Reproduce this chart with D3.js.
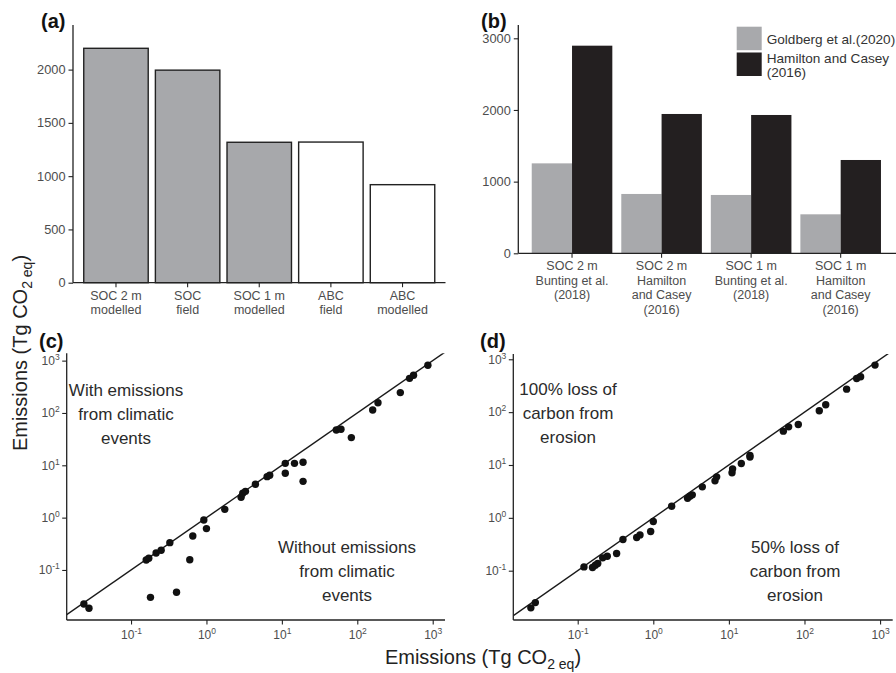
<!DOCTYPE html>
<html>
<head>
<meta charset="utf-8">
<script src="https://cdn.jsdelivr.net/npm/d3@7"></script>
<style>
  body { margin: 0; background: #fff; }
  svg { font-family: "Liberation Sans", Arial, Helvetica, sans-serif; }
  .tick text { fill: #4d4d4d; }
</style>
</head>
<body>
<script>
// panel (a)
const catsA = [["SOC 2 m", "modelled"], ["SOC", "field"], ["SOC 1 m", "modelled"], ["ABC", "field"], ["ABC", "modelled"]];
const valsA = [2200, 1995, 1318, 1320, 920];
const ticksA = [0, 500, 1000, 1500, 2000];

// panel (b)
const catsB = [["SOC 2 m", "Bunting et al.", "(2018)"], ["SOC 2 m", "Hamilton", "and Casey", "(2016)"], ["SOC 1 m", "Bunting et al.", "(2018)"], ["SOC 1 m", "Hamilton", "and Casey", "(2016)"]];
const seriesB = ["Goldberg et al.(2020)", "Hamilton and Casey|(2016)"];
const goldberg = [1255, 828, 814, 544];
const hamilton = [2897, 1944, 1930, 1302];
const ticksB = [0, 1000, 2000, 3000];

// panel (c): x = without climatic events, y = with
const cX = [0.0237, 0.0277, 0.159, 0.172, 0.215, 0.251, 0.327, 0.181, 0.401, 0.601, 0.659, 0.923, 1.0, 1.75, 2.88, 3.03, 3.29, 4.46, 6.37, 6.90, 11.1, 11.1, 14.7, 19.1, 19.1, 52.7, 60.8, 83.4, 160, 188, 372, 493, 557, 863];
const cY = [0.0224, 0.0185, 0.155, 0.167, 0.211, 0.238, 0.333, 0.030, 0.0374, 0.157, 0.447, 0.902, 0.617, 1.44, 2.45, 2.92, 3.18, 4.34, 6.07, 6.44, 10.9, 7.03, 10.9, 11.4, 4.94, 47.3, 48.8, 33.8, 114, 157, 245, 459, 525, 815];

// panel (d): x = 100% loss, y = 50% loss
const dX = [0.0240, 0.0275, 0.121, 0.157, 0.171, 0.184, 0.214, 0.246, 0.327, 0.397, 0.603, 0.667, 0.923, 1.0, 1.75, 2.84, 3.05, 3.28, 4.45, 6.55, 6.89, 11.0, 11.2, 14.6, 19.0, 19.0, 52.5, 61.7, 82.8, 157, 191, 361, 490, 553, 857];
const dY = [0.0198, 0.0249, 0.118, 0.115, 0.127, 0.137, 0.175, 0.188, 0.211, 0.389, 0.425, 0.476, 0.551, 0.853, 1.66, 2.35, 2.57, 2.72, 3.86, 5.01, 5.97, 7.11, 8.45, 10.7, 14.1, 15.1, 43.7, 52.7, 58.5, 106, 138, 272, 434, 467, 776];

const logTicks = [0.1, 1, 10, 100, 1000];

const axisColor = "#222";

const svg = d3.select("body").
append("svg").
attr("width", 896).
attr("height", 673);

const styleAxis = (g) => {
  g.select(".domain").attr("stroke", axisColor).attr("stroke-width", 1.3);
  g.selectAll(".tick line").attr("stroke", axisColor).attr("stroke-width", 1.1);
  g.selectAll(".tick text").attr("font-size", 12.8).attr("fill", "#4d4d4d");
};

const multiLine = (g, lines, lh) => {
  g.selectAll("text").remove();
  const t = g.append("text").attr("text-anchor", "middle").attr("font-size", 12.5).attr("fill", "#4d4d4d");
  lines.forEach((l, i) => t.append("tspan").attr("x", 0).attr("y", 17 + i * lh).text(l));
};

const panelLabel = (x, y, s) => {
  svg.append("text").attr("x", x).attr("y", y).attr("font-size", 20).attr("font-weight", "bold").attr("fill", "#111").text(s);
};

// ---------- (a) ----------
const drawA = () => {
  const x = d3.scaleBand().domain(d3.range(catsA.length)).range([73, 445.5]).paddingInner(0.1).paddingOuter(0.15);
  const y = d3.scaleLinear().domain([0, 2200]).range([282.7, 48.3]);
  const g = svg.append("g");
  g.selectAll("rect").
  data(valsA).
  enter().
  append("rect").
  attr("x", (d, i) => x(i)).
  attr("y", d => y(d)).
  attr("width", x.bandwidth()).
  attr("height", d => y(0) - y(d)).
  attr("fill", (d, i) => catsA[i][0].startsWith("SOC") ? "#a7a8ab" : "#fff").
  attr("stroke", "#222").
  attr("stroke-width", 1.4);

  const ya = g.append("g").attr("transform", "translate(73,0)").
  call(d3.axisLeft(y).tickValues(ticksA).tickFormat(d3.format("d")).tickSize(4.5).tickPadding(3).tickSizeOuter(0));
  ya.select(".domain").attr("d", `M0,25V${y(0)}`);
  styleAxis(ya);

  const xa = g.append("g").attr("transform", `translate(0,${y(0)})`).
  call(d3.axisBottom(x).tickSize(4.5).tickSizeOuter(0));
  xa.select(".domain").attr("d", "M73,0H445.5");
  xa.selectAll(".tick").each(function (d) { multiLine(d3.select(this), catsA[d], 14.5); });
  styleAxis(xa);
  xa.selectAll(".tick text").attr("font-size", 12.5);
  panelLabel(41, 28, "(a)");
};

// ---------- (b) ----------
const drawB = () => {
  const x0 = d3.scaleBand().domain(d3.range(catsB.length)).range([518.3, 894.4]).paddingInner(0.1).paddingOuter(0.15);
  const x1 = d3.scaleBand().domain([0, 1]).range([0, x0.bandwidth()]);
  const y = d3.scaleLinear().domain([0, 3000]).range([253.3, 38.3]);
  const colors = ["#a8a9ac", "#231f20"];
  const g = svg.append("g");
  [goldberg, hamilton].forEach((vals, s) => {
    g.append("g").selectAll("rect").
    data(vals).
    enter().
    append("rect").
    attr("x", (d, i) => x0(i) + x1(s)).
    attr("y", d => y(d)).
    attr("width", x1.bandwidth()).
    attr("height", d => y(0) - y(d)).
    attr("fill", colors[s]);
  });

  const ya = g.append("g").attr("transform", "translate(518.3,0)").
  call(d3.axisLeft(y).tickValues(ticksB).tickFormat(d3.format("d")).tickSize(4.5).tickPadding(3).tickSizeOuter(0));
  ya.select(".domain").attr("d", `M0,25V${y(0)}`);
  styleAxis(ya);

  const xa = g.append("g").attr("transform", `translate(0,${y(0)})`).
  call(d3.axisBottom(x0).tickSize(4.5).tickSizeOuter(0));
  xa.select(".domain").attr("d", "M518.3,0H896");
  xa.selectAll(".tick").each(function (d) { multiLine(d3.select(this), catsB[d], 14.5); });
  styleAxis(xa);
  xa.selectAll(".tick text").attr("font-size", 12.5);

  // legend
  const lg = svg.append("g").attr("transform", "translate(736.7,26.7)");
  seriesB.forEach((s, i) => {
    lg.append("rect").attr("x", 0).attr("y", i * 25.8).attr("width", 25).attr("height", 23.5).attr("fill", colors[i]);
    const t = lg.append("text").attr("font-size", 13.6).attr("fill", "#333");
    s.split("|").forEach((l, j) => t.append("tspan").attr("x", 30).attr("y", 17 + i * 19.5 + j * 14).text(l));
  });
  panelLabel(481, 28, "(b)");
};

// ---------- (c), (d) ----------
const supLabel = (sel) => {
  sel.each(function (d) {
    const t = d3.select(this);
    const e = Math.round(Math.log10(d));
    t.text(null);
    t.append("tspan").text("10");
    t.append("tspan").attr("dy", -5).attr("font-size", 8.5).text(e < 0 ? "-" + Math.abs(e) : e);
  });
};

const drawScatter = (px, xr, yr, xd, yd, xs, ys, notes, label) => {
  const x = d3.scaleLog().domain(xd).range(xr);
  const y = d3.scaleLog().domain(yd).range(yr);
  const g = svg.append("g");
  const clipId = "clip" + label.replace(/\W/g, "");
  g.append("clipPath").attr("id", clipId).append("rect").
  attr("x", xr[0]).attr("y", yr[1]).attr("width", xr[1] - xr[0]).attr("height", yr[0] - yr[1]);

  g.append("line").
  attr("clip-path", `url(#${clipId})`).
  attr("x1", x(0.005)).attr("y1", y(0.005)).
  attr("x2", x(3000)).attr("y2", y(3000)).
  attr("stroke", "#1a1a1a").attr("stroke-width", 1.4);

  g.selectAll("circle").
  data(xs).
  enter().
  append("circle").
  attr("cx", d => x(d)).
  attr("cy", (d, i) => y(ys[i])).
  attr("r", 3.7).
  attr("fill", "#111");

  const ya = g.append("g").attr("transform", `translate(${xr[0]},0)`).
  call(d3.axisLeft(y).tickValues(logTicks).tickSize(4.5).tickPadding(2.5).tickSizeOuter(0));
  ya.select(".domain").attr("d", `M0,${yr[1]}V${yr[0]}`);
  styleAxis(ya);
  ya.selectAll(".tick text").attr("font-size", 12).call(supLabel);

  const xa = g.append("g").attr("transform", `translate(0,${yr[0]})`).
  call(d3.axisBottom(x).tickValues(logTicks).tickSize(4.5).tickPadding(6).tickSizeOuter(0));
  xa.select(".domain").attr("d", `M${xr[0]},0H${xr[1]}`);
  styleAxis(xa);
  xa.selectAll(".tick text").attr("font-size", 12).call(supLabel);

  notes.forEach(n => {
    const t = g.append("text").attr("text-anchor", "middle").attr("font-size", 17).attr("fill", "#2b2b2b");
    n.lines.forEach((l, i) => t.append("tspan").attr("x", n.x).attr("y", n.y + i * 24).text(l));
  });
  panelLabel(px, 348, label);
};

drawA();
drawB();
drawScatter(39, [66.7, 445], [620, 353.3], [Math.pow(10, -1.853), Math.pow(10, 3.163)], [Math.pow(10, -1.956), Math.pow(10, 3.14)], cX, cY,
  [{ x: 126, y: 396, lines: ["With emissions", "from climatic", "events"] },
    { x: 347, y: 552.5, lines: ["Without emissions", "from climatic", "events"] }], "(c)");
drawScatter(480, [513.3, 892.7], [620, 354], [Math.pow(10, -1.852), Math.pow(10, 3.167)], [Math.pow(10, -1.933), Math.pow(10, 3.1)], dX, dY,
  [{ x: 568, y: 395, lines: ["100% loss of", "carbon from", "erosion"] },
    { x: 795, y: 553, lines: ["50% loss of", "carbon from", "erosion"] }], "(d)");

// shared axis titles
const yt = svg.append("text").
attr("transform", "translate(27,353) rotate(-90)").
attr("text-anchor", "middle").
attr("font-size", 20).
attr("fill", "#222");
yt.append("tspan").text("Emissions (Tg CO");
yt.append("tspan").attr("font-size", 14).attr("dy", 5).text("2 eq");
yt.append("tspan").attr("dy", -5).text(")");

const xt = svg.append("text").
attr("x", 483).attr("y", 664).
attr("text-anchor", "middle").
attr("font-size", 20).
attr("fill", "#222");
xt.append("tspan").text("Emissions (Tg CO");
xt.append("tspan").attr("font-size", 14).attr("dy", 5).text("2 eq");
xt.append("tspan").attr("dy", -5).text(")");
</script>
</body>
</html>
